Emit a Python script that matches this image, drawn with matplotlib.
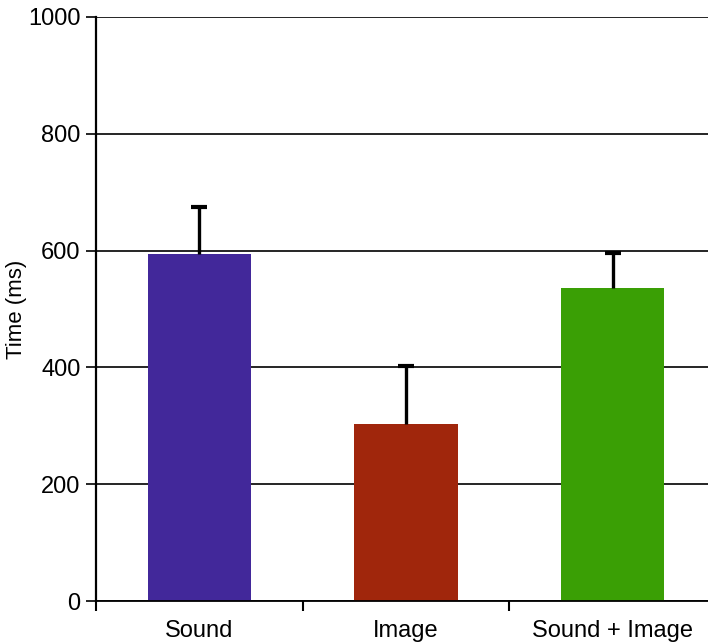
import matplotlib
matplotlib.use("Agg")
import matplotlib.pyplot as plt

categories = ["Sound", "Image", "Sound + Image"]
means = [594, 303, 536]
errors = [81, 100, 60]
colors = ["#42289a", "#a0260c", "#3a9f05"]
y_ticks = [0, 200, 400, 600, 800, 1000]

plt.rcParams["font.family"] = ["Liberation Sans", "DejaVu Sans"]

fig = plt.figure(figsize=(7.08, 6.44), dpi=100)
ax = fig.add_axes([96 / 708, 1 - 601 / 644, 620 / 708, 584 / 644])

x = list(range(len(categories)))
ax.bar(x, means, width=0.5, color=colors, zorder=2)

# upper-only error bars: stem from bar top, cap at the upper end
tops = [m + e for m, e in zip(means, errors)]
ax.vlines(x, means, tops, color="black", linewidth=2.4, zorder=3)
ax.plot(x, tops, linestyle="none", marker="_", markersize=11,
        markeredgewidth=3, color="black", zorder=3)

ax.set_xlim(-0.5, 2.5)
ax.set_ylim(0, 1000)
ax.set_yticks(y_ticks)
ax.yaxis.grid(True, color="black", linewidth=1.2, zorder=1)
ax.set_axisbelow(True)

ax.set_xticks(x)
ax.set_xticklabels(categories, fontsize=17)
ax.tick_params(axis="x", which="major", length=0, pad=14)
ax.set_xticks([-0.5, 0.5, 1.5, 2.5], minor=True)
ax.tick_params(axis="x", which="minor", length=7, width=1.5, color="black")

ax.tick_params(axis="y", labelsize=17, length=7, width=1.2, pad=4)
ax.set_ylabel("Time (ms)", fontsize=16, labelpad=1)

for side in ["top", "right"]:
    ax.spines[side].set_visible(False)
ax.spines["left"].set_linewidth(1.6)
ax.spines["bottom"].set_linewidth(1.3)
ax.spines["left"].set_bounds(0, 1000)

fig.savefig("out.png", dpi=100)
